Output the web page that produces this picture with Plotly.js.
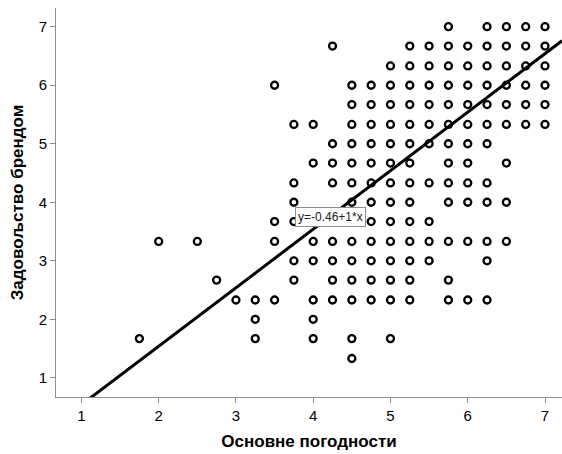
<!DOCTYPE html>
<html>
<head>
<meta charset="utf-8">
<script src="https://cdn.plot.ly/plotly-3.0.1.min.js"></script>
<style>html,body{margin:0;padding:0;background:#fff;}#chart{width:562px;height:454px;}</style>
</head>
<body>
<div id="chart"></div>
<script>
// Observed points (x = Основне погодности, y = Задовољство брендом), row by row
const rowY = [7, 6.67, 6.33, 6, 5.67, 5.33, 5, 4.67, 4.33, 4, 3.67, 3.33, 3, 2.67, 2.33, 2, 1.67, 1.33];
const rowX = [
  [5.75, 6.25, 6.5, 6.75, 7],
  [4.25, 5.25, 5.5, 5.75, 6, 6.25, 6.5, 6.75, 7],
  [5, 5.25, 5.5, 5.75, 6, 6.25, 6.5, 6.75, 7],
  [3.5, 4.5, 4.75, 5, 5.25, 5.5, 5.75, 6, 6.25, 6.5, 6.75, 7],
  [4.5, 4.75, 5, 5.25, 5.5, 5.75, 6, 6.25, 6.5, 6.75, 7],
  [3.75, 4, 4.5, 4.75, 5, 5.25, 5.5, 5.75, 6, 6.25, 6.5, 6.75, 7],
  [4.25, 4.5, 4.75, 5, 5.25, 5.5, 5.75, 6, 6.25],
  [4, 4.25, 4.5, 4.75, 5, 5.25, 5.75, 6, 6.5],
  [3.75, 4.25, 4.5, 4.75, 5, 5.25, 5.5, 5.75, 6, 6.25],
  [3.75, 4.5, 4.75, 5, 5.25, 5.75, 6, 6.25, 6.5],
  [3.5, 3.75, 4.5, 4.75, 5, 5.25, 5.5],
  [2, 2.5, 3.5, 4, 4.25, 4.5, 4.75, 5, 5.25, 5.5, 5.75, 6, 6.25, 6.5],
  [3.75, 4, 4.25, 4.5, 4.75, 5, 5.25, 5.5, 6.25],
  [2.75, 3.75, 4.25, 4.5, 4.75, 5, 5.25, 5.75],
  [3, 3.25, 3.5, 4, 4.25, 4.5, 4.75, 5, 5.25, 5.75, 6, 6.25],
  [3.25, 4],
  [1.75, 3.25, 4, 4.5, 5],
  [4.5]
];
// Fit line: y = intercept + slope * x
const intercept = -0.46;
const slope = 1;
const fitLabel = "y=-0.46+1*x";
const xTitle = "Основне погодности";
const yTitle = "Задовољство брендом";
const tickVals = [1, 2, 3, 4, 5, 6, 7];

const xs = [], ys = [];
rowY.forEach((yv, i) => rowX[i].forEach(xv => { xs.push(xv); ys.push(yv); }));

const xRange = [0.671, 7.22];
const yRange = [0.672, 7.32];
const fitX = [xRange[0], xRange[1]];
const fitY = fitX.map(v => intercept + slope * v);

const font = "Liberation Sans, Arial, sans-serif";
const data = [
  {
    x: fitX, y: fitY, mode: "lines", type: "scatter",
    line: {color: "#000", width: 3}, hoverinfo: "skip", cliponaxis: true
  },
  {
    x: xs, y: ys, mode: "markers", type: "scatter",
    marker: {symbol: "circle-open", size: 7, color: "#000", line: {width: 2.3, color: "#000"}},
    cliponaxis: false
  }
];
const layout = {
  width: 562, height: 454,
  margin: {l: 56, r: 0, t: 8, b: 57},
  paper_bgcolor: "#fff", plot_bgcolor: "#fff",
  showlegend: false,
  font: {family: font, color: "#000"},
  xaxis: {
    range: xRange, tickvals: tickVals, ticktext: tickVals.map(String),
    showgrid: false, zeroline: false, showline: true, linecolor: "#8c8c8c", linewidth: 1,
    ticks: "outside", ticklen: 5, tickcolor: "#8c8c8c", tickwidth: 1,
    tickfont: {size: 15, family: font, color: "#000"},
    title: {text: "<b>" + xTitle + "</b>", font: {size: 17, family: font, color: "#000"}, standoff: 12}
  },
  yaxis: {
    range: yRange, tickvals: tickVals, ticktext: tickVals.map(String),
    showgrid: false, zeroline: false, showline: true, linecolor: "#8c8c8c", linewidth: 1,
    ticks: "outside", ticklen: 5, tickcolor: "#8c8c8c", tickwidth: 1,
    tickfont: {size: 15, family: font, color: "#000"},
    title: {text: "<b>" + yTitle + "</b>", font: {size: 17, family: font, color: "#000"}, standoff: 10}
  },
  annotations: [{
    x: 4.225, y: 3.75, xref: "x", yref: "y", text: fitLabel, showarrow: false,
    font: {size: 12, family: font, color: "#222"},
    bgcolor: "#fff", bordercolor: "#8c8c8c", borderwidth: 1, borderpad: 2
  }]
};
Plotly.newPlot("chart", data, layout, {displayModeBar: false, staticPlot: true});
</script>
</body>
</html>
